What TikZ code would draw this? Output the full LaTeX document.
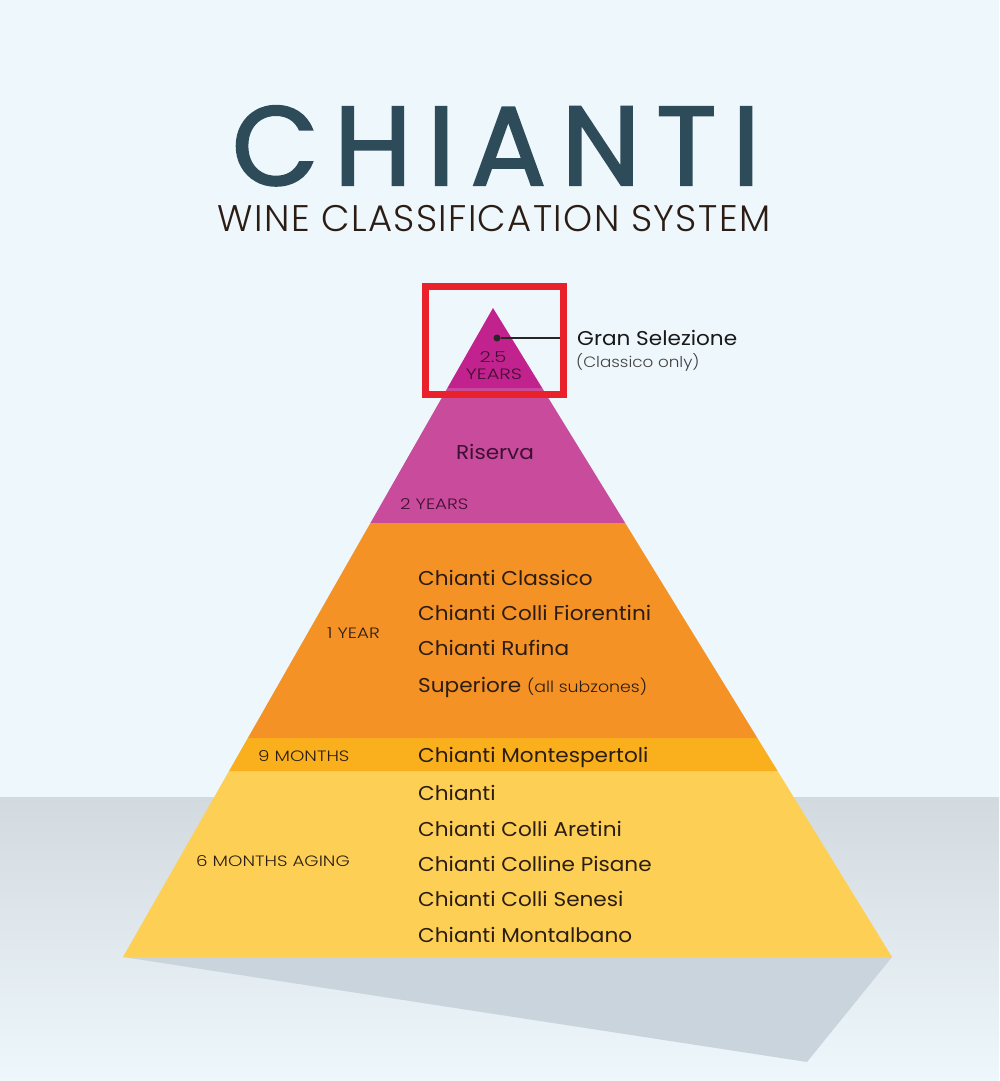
\documentclass[tikz,border=0pt]{standalone}
\usepackage{fontspec}
\setmainfont{Poppins}[FakeStretch=1.08]
\newfontfamily\poptitle{Poppins}[FakeBold=2,LetterSpace=14]
\newfontfamily\popsub{Poppins Light}[LetterSpace=3.7]
\newfontfamily\poplight{Poppins Light}[FakeStretch=1.22]
\newfontfamily\poplightn{Poppins Light}[FakeStretch=1.12]
\newfontfamily\poptop{Poppins Light}[FakeStretch=1.3]
\usetikzlibrary{calc}
\definecolor{bgc}{HTML}{EEF7FC}
\definecolor{bandc}{HTML}{D2DAE0}
\definecolor{shadowc}{HTML}{CAD4DD}
\definecolor{topc}{HTML}{C1228E}
\definecolor{risc}{HTML}{C84C9B}
\definecolor{orac}{HTML}{F59226}
\definecolor{ninec}{HTML}{FAB01C}
\definecolor{yelc}{HTML}{FDD055}
\definecolor{titlec}{HTML}{2E4B5A}
\definecolor{txtc}{HTML}{2B1D14}
\definecolor{purtxt}{HTML}{3F0F33}
\definecolor{redc}{HTML}{E8212B}
\tikzset{
  item/.style={anchor=base west, inner sep=0pt, font=\fontsize{20}{20}\selectfont, text=txtc},
  agelabel/.style={anchor=base west, inner sep=0pt, font=\poplight\fontsize{15}{15}\selectfont, text=txtc},
  toplabel/.style={anchor=base, inner sep=0pt, text=purtxt, font=\poptop\fontsize{15}{15}\selectfont},
}
\begin{document}
\begin{tikzpicture}[x=1pt,y=-1pt]
\useasboundingbox (0,0) rectangle (999,1081);
\fill[bgc] (0,0) rectangle (999,1081);
\shade[top color=bandc, bottom color=bgc] (0,797) rectangle (999,1081);
% shadow
\fill[shadowc] (123,957) -- (892,957) -- (807,1062) -- cycle;
% pyramid
\coordinate (A) at (493,308);
\coordinate (BL) at (123,957);
\coordinate (BR) at (892,957);
\coordinate (L1) at ($(A)!{80/649}!(BL)$);
\coordinate (R1) at ($(A)!{80/649}!(BR)$);
\coordinate (L2) at ($(A)!{215/649}!(BL)$);
\coordinate (R2) at ($(A)!{215/649}!(BR)$);
\coordinate (L3) at ($(A)!{430/649}!(BL)$);
\coordinate (R3) at ($(A)!{430/649}!(BR)$);
\coordinate (L4) at ($(A)!{463/649}!(BL)$);
\coordinate (R4) at ($(A)!{463/649}!(BR)$);
\fill[yelc] (L4) -- (R4) -- (BR) -- (BL) -- cycle;
\fill[ninec] (L3) -- (R3) -- (R4) -- (L4) -- cycle;
\fill[orac] (L2) -- (R2) -- (R3) -- (L3) -- cycle;
\fill[risc] (L1) -- (R1) -- (R2) -- (L2) -- cycle;
\fill[topc] (A) -- (R1) -- (L1) -- cycle;
% title
\node[anchor=base, inner sep=0pt, text depth=0pt, text=titlec, font=\poptitle\fontsize{112}{112}\selectfont] (title) at (496,185) {CHIANTI};
\node[anchor=base, inner sep=0pt, text=txtc, font=\popsub\fontsize{37}{37}\selectfont] (subtitle) at (494,231) {WINE CLASSIFICATION SYSTEM};
% top
\node[toplabel] (tp1) at (493,362) {2.5};
\node[toplabel] (tp2) at (494,379) {YEARS};
\node[circle, fill=black!85, inner sep=0pt, minimum size=7pt] (dot) at (497,338) {};
\coordinate (gsend) at (567,338);
\draw[black!85, line width=1.3pt] (dot) -- (gsend);
\node[anchor=base west, inner sep=0pt, text=black!90, font=\fontsize{20}{20}\selectfont] (gs) at (577,345) {Gran Selezione};
\node[anchor=base west, inner sep=0pt, text=black!75, font=\poplightn\fontsize{15}{15}\selectfont] (gs2) at (576,367) {(Classico only)};
% riserva
\node[anchor=base, inner sep=0pt, text=purtxt, font=\fontsize{20}{20}\selectfont] (ris) at (495,459) {Riserva};
\node[agelabel, text=purtxt] (ris2) at (400,509) {2 YEARS};
% orange
\node[agelabel] (oy) at (327,638) {1 YEAR};
\node[item] (o1) at (418,585) {Chianti Classico};
\node[item] (o2) at (418,620) {Chianti Colli Fiorentini};
\node[item] (o3) at (418,655) {Chianti Rufina};
\node[item] (o4) at (418,692) {Superiore {\poplightn\fontsize{15.5}{15.5}\selectfont(all subzones)}};
% nine months
\node[agelabel] (nm) at (258,761) {9 MONTHS};
\node[item] (n1) at (418,762) {Chianti Montespertoli};
% yellow
\node[agelabel] (sm) at (196,866) {6 MONTHS AGING};
\node[item] (y1) at (418,800) {Chianti};
\node[item] (y2) at (418,836) {Chianti Colli Aretini};
\node[item] (y3) at (418,871) {Chianti Colline Pisane};
\node[item] (y4) at (418,906) {Chianti Colli Senesi};
\node[item] (y5) at (418,942) {Chianti Montalbano};
% red highlight box
\draw[redc, line width=7pt] (425,286) rectangle (563,394);
\end{tikzpicture}
\end{document}
